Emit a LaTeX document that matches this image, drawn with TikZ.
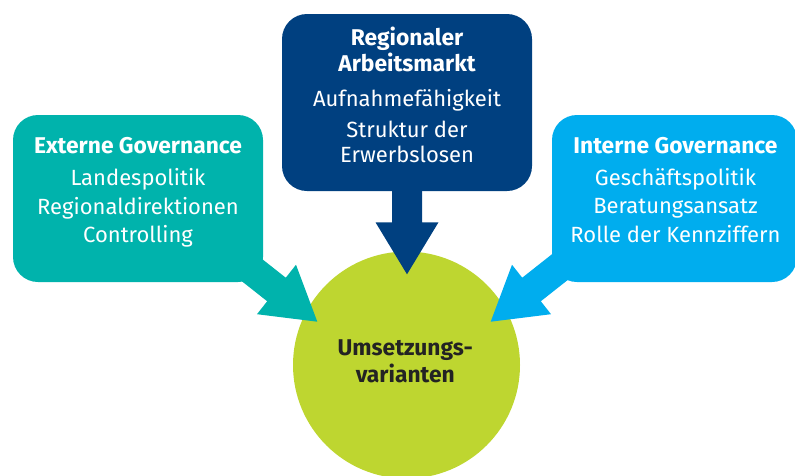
\documentclass[tikz,border=0pt]{standalone}
\usepackage{fontspec}
\setmainfont{Fira Sans}
\usetikzlibrary{calc}
\definecolor{cteal}{RGB}{0,179,172}
\definecolor{cdark}{RGB}{0,64,128}
\definecolor{clight}{RGB}{0,173,238}
\definecolor{cgreen}{RGB}{190,214,48}
\definecolor{ctext}{RGB}{35,35,35}
\newcommand\hd[1]{{\bfseries\fontsize{22.8}{24.5}\selectfont #1}}
\newcommand\blockarrow[3]{%
  \coordinate (#3-base) at ($(#3)!52pt!(#2)$);
  \fill[#1] ($(#2)!15pt!90:(#3)$) -- ($(#3-base)!15pt!90:(#3)$) -- ($(#3-base)!31.5pt!90:(#3)$) -- (#3)
    -- ($(#3-base)!31.5pt!-90:(#3)$) -- ($(#3-base)!15pt!-90:(#3)$) -- ($(#2)!15pt!-90:(#3)$) -- cycle;}
\begin{document}
\begin{tikzpicture}[x=1pt,y=-1pt,
  box/.style={rounded corners=25pt, inner sep=0pt, draw=none},
  txt/.style={text=white, align=center, inner sep=0pt, anchor=north, font=\fontsize{22}{24.5}\selectfont},
]
\useasboundingbox (0,0) rectangle (795,475);
\clip (0,0) rectangle (795,475);
% centre
\node[circle, fill=cgreen, minimum size=227pt, inner sep=0pt] (circ) at (406.5,365) {};
\node[text=ctext, align=center, inner sep=0pt, font=\bfseries\fontsize{22.8}{27.5}\selectfont] (ctxt) at (405.3,361.2) {Umsetzungs-\\varianten};
% arrows
\coordinate (tailL) at (199.5,228.7);
\coordinate (tipL) at (317.3,321.7);
\coordinate (tailR) at (608.5,228.7);
\coordinate (tipR) at (490.7,321.7);
\coordinate (tailT) at (407,120);
\coordinate (tipT) at (407,274.3);
\blockarrow{cteal}{tailL}{tipL}
\blockarrow{clight}{tailR}{tipR}
\blockarrow{cdark}{tailT}{tipT}
% boxes
\fill[box, cteal] (13,115) rectangle (263,282);
\fill[box, cdark] (282,14) rectangle (532,191);
\fill[box, clight] (552,115) rectangle (797,282);
\node[box, minimum width=250pt, minimum height=167pt] (ext) at (138,198.5) {};
\node[box, minimum width=250pt, minimum height=177pt] (reg) at (407,102.5) {};
\node[box, minimum width=245pt, minimum height=167pt] (int) at (674.5,198.5) {};
% texts
\node[txt] (exttxt) at (138,137.3) {\hd{Externe Governance}\\[7.5pt]Landespolitik\\[4.5pt]Regionaldirektionen\\[3.5pt]Controlling};
\node[txt] (regtxt) at (407,26.4) {\hd{Regionaler}\\[1.5pt]\hd{Arbeitsmarkt}\\[10.5pt]Aufnahmefähigkeit\\[7pt]Struktur der\\Erwerbslosen};
\node[txt] (inttxt) at (675.5,137.3) {\hd{Interne Governance}\\[7.5pt]Geschäftspolitik\\[3.5pt]Beratungsansatz\\[4.5pt]Rolle der Kennziffern};
\end{tikzpicture}
\end{document}
